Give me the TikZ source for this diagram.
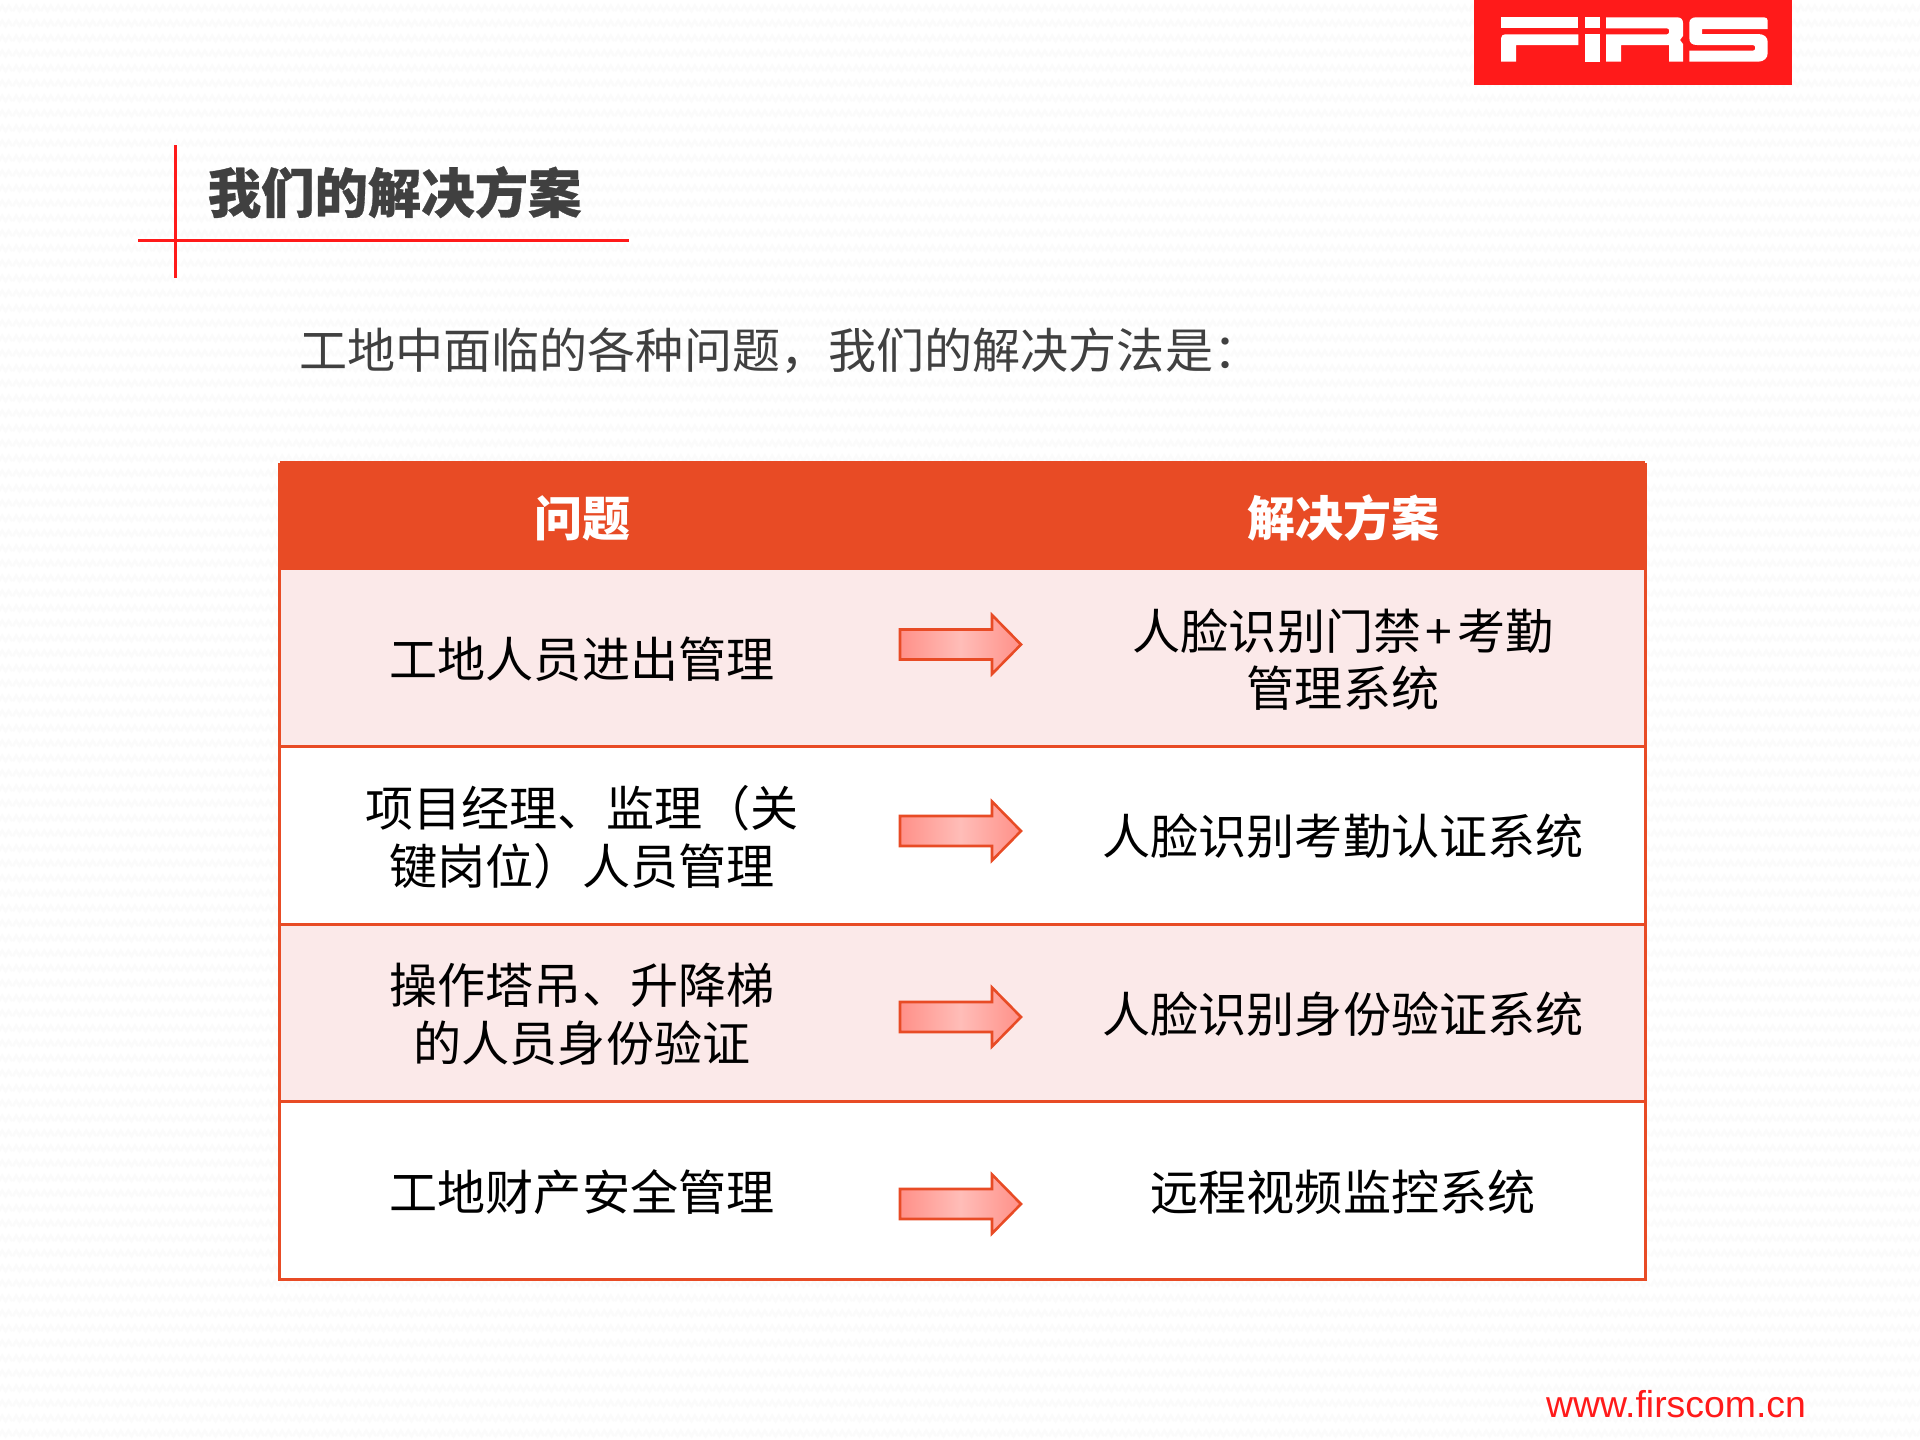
\documentclass[tikz,border=0pt]{standalone}
\usepackage{fontspec}
\usetikzlibrary{patterns}
\setmainfont{Noto Sans CJK SC}
\newfontfamily\titlefont[BoldFeatures={FakeBold=0.6}]{Noto Sans CJK SC}
\newfontfamily\latinfont{Liberation Sans}
\definecolor{brandred}{HTML}{FF1A1A}
\definecolor{tableorange}{HTML}{E84B25}
\definecolor{rowpink}{HTML}{FBE9E9}
\definecolor{titlegrey}{HTML}{404040}
\definecolor{arrowedge}{HTML}{FF9088}
\definecolor{arrowmid}{HTML}{FFBDB8}
\pgfdeclarepatternformonly{softwave}{\pgfpointorigin}{\pgfqpoint{14pt}{15pt}}{\pgfqpoint{14pt}{15pt}}{%
  \pgfsetlinewidth{2.6pt}%
  \pgfpathmoveto{\pgfqpoint{0pt}{4pt}}%
  \pgfpathlineto{\pgfqpoint{3.5pt}{10pt}}%
  \pgfpathlineto{\pgfqpoint{7pt}{4pt}}%
  \pgfpathlineto{\pgfqpoint{10.5pt}{10pt}}%
  \pgfpathlineto{\pgfqpoint{14pt}{4pt}}%
  \pgfusepath{stroke}%
}
\tikzset{
  x=1pt,y=-1pt,
  cell/.style={font=\fontsize{48.1}{57.6}\selectfont,text=black,align=center,inner sep=0pt,text width=520pt},
  headcell/.style={font=\fontsize{48}{57.6}\selectfont\bfseries,text=white,align=center,inner sep=0pt},
  tableline/.style={draw=tableorange,line width=3pt},
  redline/.style={draw=brandred,line width=3pt},
  logoshape/.style={fill=white,draw=none},
  blockarrow/.pic={
    \path[draw=tableorange,line width=2.6pt,line join=miter,left color=arrowedge,right color=arrowedge,middle color=arrowmid,shading angle=90]
      (0,-15) -- (92,-15) -- (92,-29.5) -- (121,0) -- (92,29.5) -- (92,15) -- (0,15) -- cycle;
  }
}
\begin{document}
\begin{tikzpicture}
\useasboundingbox (0,0) rectangle (1920,1440);
\fill[white] (0,0) rectangle (1920,1440);
\fill[pattern=softwave,pattern color=black!1.5] (0,0) rectangle (1920,1440);

% logo
\fill[brandred] (1474,0) rectangle (1792,85);
\fill[logoshape] (1501,17.3) rectangle (1578.3,28.3);
\fill[logoshape] (1505,34.3) -- (1578.3,34.3) -- (1578.3,45) -- (1516,45) -- (1516,61.7) -- (1501,61.7) -- (1501,38.3) .. controls (1501,36) and (1503,34.3) .. cycle;
\fill[logoshape] (1585,17.3) rectangle (1600,28.3);
\fill[logoshape] (1585,34.3) rectangle (1600,61.7);
\fill[logoshape] (1606,17.3) -- (1677,17.3) .. controls (1681,17.3) and (1683,19.5) .. (1683,23) -- (1683,36) -- (1680,40) -- (1683,44) -- (1683,61.7) -- (1669,61.7) -- (1669,45) -- (1621,45) -- (1621,61.7) -- (1606,61.7) -- (1606,34.3) -- (1667,34.3) .. controls (1670,34.3) and (1670,28.3) .. (1667,28.3) -- (1606,28.3) -- cycle;
\fill[logoshape] (1764,17.3) -- (1696,17.3) .. controls (1692,17.3) and (1689.3,19.5) .. (1689.3,23) -- (1689.3,38) .. controls (1689.3,43) and (1692,45) .. (1697,45) -- (1753,45) .. controls (1756,45) and (1756,50.7) .. (1753,50.7) -- (1689.3,50.7) -- (1689.3,61.7) -- (1758,61.7) .. controls (1764,61.7) and (1767.7,58) .. (1767.7,53) -- (1767.7,42) .. controls (1767.7,37) and (1764,34) .. (1758,34) -- (1702,34) -- (1702,29) -- (1767.7,29) -- (1767.7,20.5) .. controls (1767.7,18.5) and (1766,17.3) .. cycle;

% title
\draw[redline] (175.5,145) -- (175.5,278);
\draw[redline] (138,240) -- (629,240);
\node[anchor=west,inner sep=0pt,text=titlegrey,font=\fontsize{53.4}{60}\selectfont\titlefont\bfseries] (title) at (207.5,192.3) {我们的解决方案};
\node[anchor=west,inner sep=0pt,text=titlegrey,font=\fontsize{48.1}{57.6}\selectfont] (subtitle) at (299,351) {工地中面临的各种问题，我们的解决方法是：};

% table
\fill[tableorange] (280,461) rectangle (1645,570);
\fill[rowpink] (279.5,570) rectangle (1645.7,746);
\fill[white] (279.5,746) rectangle (1645.7,924.5);
\fill[rowpink] (279.5,924.5) rectangle (1645.7,1101);
\fill[white] (279.5,1101) rectangle (1645.7,1279.5);
\draw[tableline] (279.5,463) -- (279.5,1279.5) -- (1645.7,1279.5) -- (1645.7,463);
\draw[tableline] (279.5,746) -- (1645.7,746);
\draw[tableline] (279.5,924.5) -- (1645.7,924.5);
\draw[tableline] (279.5,1101) -- (1645.7,1101);

\node[headcell] (hproblem) at (582,518) {问题};
\node[headcell] (hsolution) at (1343,518) {解决方案};
\node[cell] (p1) at (582,659) {工地人员进出管理};
\node[cell] (s1) at (1343,659.5) {人脸识别门禁\hspace{4.5pt}+\hspace{4.5pt}考勤\\管理系统};
\node[cell] (p2) at (582,837) {项目经理、监理（关\\键岗位）人员管理};
\node[cell] (s2) at (1343,836) {人脸识别考勤认证系统};
\node[cell] (p3) at (582,1014.5) {操作塔吊、升降梯\\的人员身份验证};
\node[cell] (s3) at (1343,1014) {人脸识别身份验证系统};
\node[cell] (p4) at (582,1192) {工地财产安全管理};
\node[cell] (s4) at (1343,1192) {远程视频监控系统};

\pic at (900,644.5) {blockarrow};
\pic at (900,831) {blockarrow};
\pic at (900,1017) {blockarrow};
\pic at (900,1204) {blockarrow};

\node[anchor=base west,inner sep=0pt,text=brandred,font=\fontsize{37.4}{40}\selectfont\latinfont] (url) at (1546,1417.5) {www.firscom.cn};
\end{tikzpicture}
\end{document}
